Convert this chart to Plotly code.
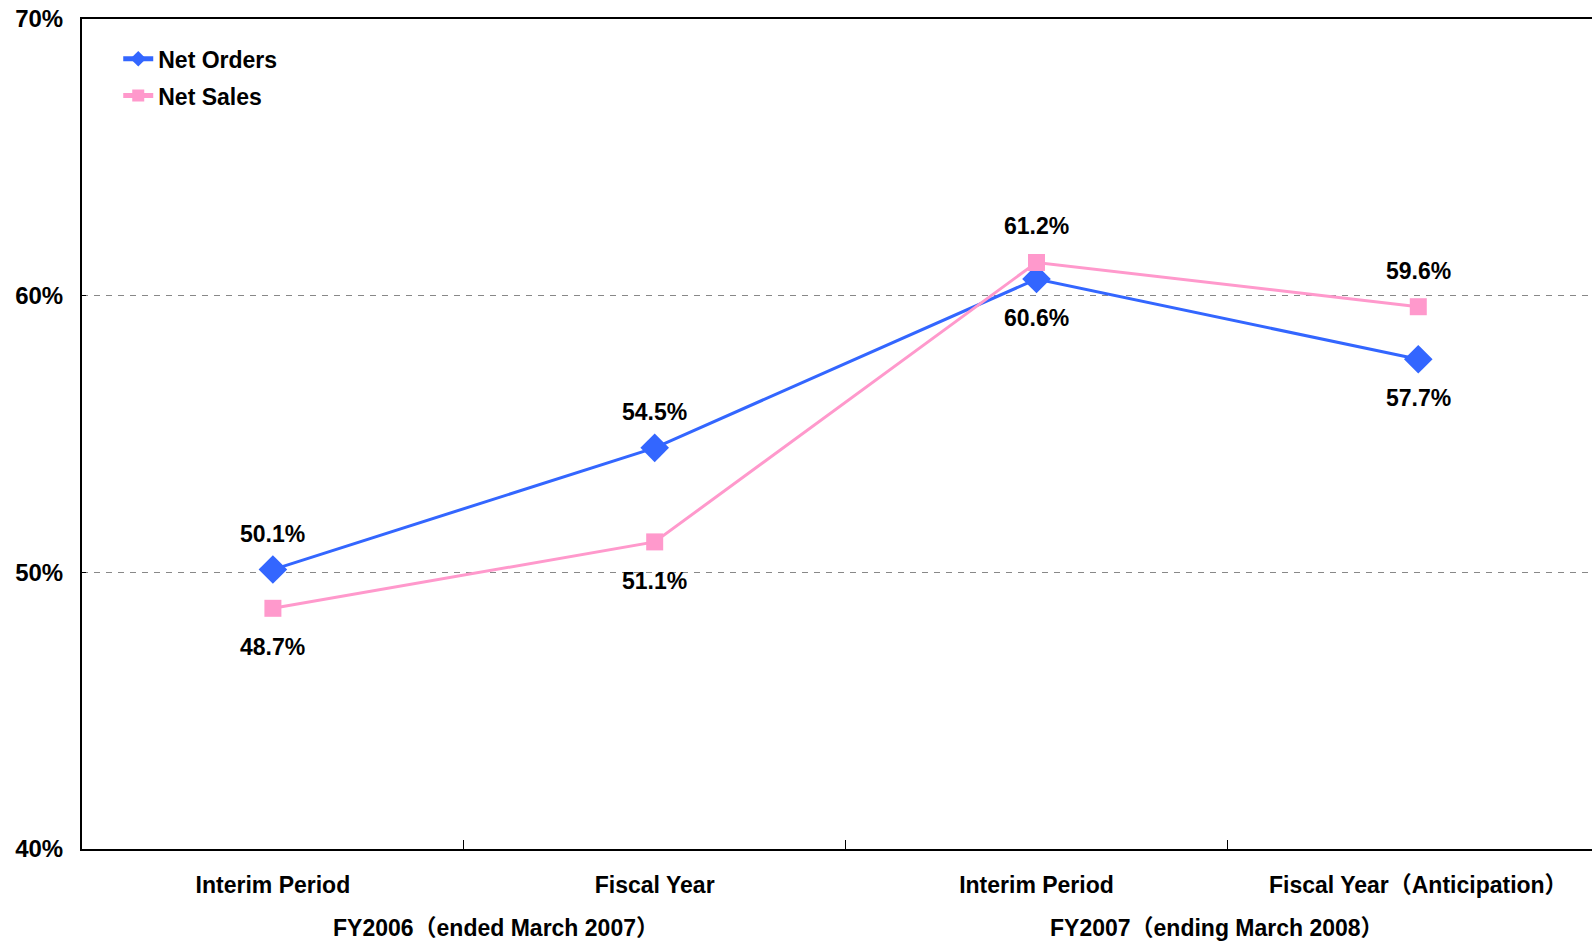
import plotly.graph_objects as go

categories = ["Interim Period", "Fiscal Year", "Interim Period", "Fiscal Year（Anticipation）"]
groups = ["FY2006（ended March 2007）", "FY2007（ending March 2008）"]
net_orders = [50.1, 54.5, 60.6, 57.7]
net_sales = [48.7, 51.1, 61.2, 59.6]
orders_label_pos = ["above", "above", "below", "below"]
sales_label_pos = ["below", "below", "above", "above"]
y_ticks = [40, 50, 60, 70]

FONT = "Liberation Sans, Arial, Noto Sans CJK JP, sans-serif"
BLUE = "#3366FF"
PINK = "#FF99CC"

xs = list(range(len(categories)))

fig = go.Figure()
fig.add_trace(go.Scatter(
    x=xs, y=net_orders, name="Net Orders", mode="lines+markers", legendgroup="o",
    line=dict(color=BLUE, width=3),
    marker=dict(symbol="diamond", size=22, color=BLUE),
))
fig.add_trace(go.Scatter(
    x=xs, y=net_sales, name="Net Sales", mode="lines+markers", legendgroup="s",
    line=dict(color=PINK, width=3),
    marker=dict(symbol="square", size=17, color=PINK),
))
# invisible trace on second x axis for between-category tick marks
fig.add_trace(go.Scatter(x=[0.5], y=[None], xaxis="x2", showlegend=False, hoverinfo="skip"))

annotations = []
for vals, pos in ((net_orders, orders_label_pos), (net_sales, sales_label_pos)):
    for x, v, p in zip(xs, vals, pos):
        annotations.append(dict(
            x=x, y=v, xref="x", yref="y", text=f"{v:.1f}%", showarrow=False,
            yshift=36 if p == "above" else -39,
            font=dict(family=FONT, size=23, color="black", weight="bold"),
        ))
group_xshift = [32, -10]
for i, g in enumerate(groups):
    annotations.append(dict(
        x=2 * i + 0.5, y=0, xref="x", yref="paper", text=g, showarrow=False,
        yshift=-94, xshift=group_xshift[i],
        font=dict(family=FONT, size=23, color="black", weight="bold"),
    ))

xr = [-0.5, 3.455]
fig.update_layout(
    width=1592, height=944,
    margin=dict(l=82, r=0, t=19, b=95),
    paper_bgcolor="white", plot_bgcolor="white",
    showlegend=True,
    legend=dict(x=0.024, y=0.978, xanchor="left", yanchor="top",
                font=dict(family=FONT, size=23, color="black", weight="bold"),
                bgcolor="rgba(0,0,0,0)", traceorder="grouped", tracegroupgap=4,
                itemsizing="constant"),
    xaxis=dict(
        range=xr, tickmode="array", tickvals=xs, ticktext=categories,
        ticks="", showgrid=False, zeroline=False,
        showline=True, linecolor="black", linewidth=2, mirror=True,
        tickfont=dict(family=FONT, size=23, color="black", weight="bold"),
        ticklabelstandoff=14,
    ),
    xaxis2=dict(
        range=xr, overlaying="x", side="bottom", tickmode="array",
        tickvals=[0.5, 1.5, 2.5], ticktext=["", "", ""], ticks="inside",
        ticklen=9, tickcolor="black", tickwidth=1, showgrid=False,
        zeroline=False, showline=False,
    ),
    yaxis=dict(
        range=[40, 70], tickmode="array", tickvals=y_ticks,
        ticktext=[f"{t}%" for t in y_ticks], ticks="inside", ticklen=4,
        tickcolor="black", tickwidth=1,
        showgrid=True, gridcolor="#888888", griddash="6px,6px", gridwidth=1,
        zeroline=False, showline=True, linecolor="black", linewidth=2,
        mirror=False,
        tickfont=dict(family=FONT, size=24, color="black", weight="bold"),
        ticklabelstandoff=12,
    ),
    annotations=annotations,
)

fig.write_html("out.html", config={"displayModeBar": False},
               post_script="document.body.style.margin='0';document.body.style.overflow='hidden';")
